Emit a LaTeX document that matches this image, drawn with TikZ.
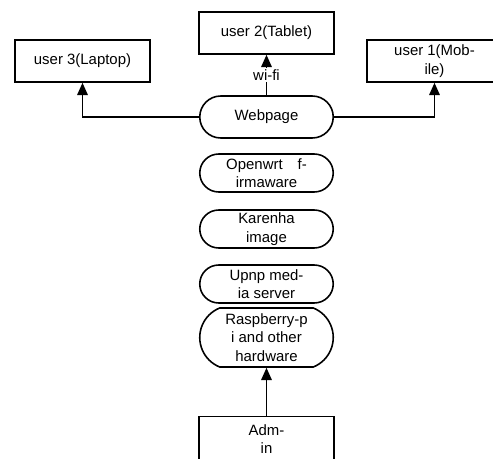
\documentclass[tikz,border=0pt]{standalone}
\usepackage{fontspec}
\setmainfont{Liberation Sans}
\usetikzlibrary{arrows.meta, shapes.misc}

\begin{document}
\begin{tikzpicture}[>={Triangle[length=7pt,width=6pt]},
        every node/.style={font=\fontsize{8.5}{10.4}\selectfont},
        userbox/.style={draw, line width=0.9pt, minimum width=2.7cm,
            minimum height=0.84cm, align=center, inner sep=1pt},
        stadium/.style={draw, line width=0.9pt, rounded rectangle,
            minimum width=2.74cm, minimum height=0.76cm, align=center,
            inner sep=1pt}]
      \useasboundingbox (0,0) rectangle (9.86,-9.18);
      \node[userbox] (U3) at (1.65,-1.22) {user 3(Laptop)};
      \node[userbox] (U2) at (5.33,-0.66) {user 2(Tablet)};
      \node[userbox] (U1) at (8.69,-1.22) {user 1(Mob-\\ile)};
      \node[stadium, minimum height=0.84cm] (WEB) at (5.33,-2.34) {Webpage};
      \node[stadium] (WRT) at (5.33,-3.46) {Openwrt\hspace{1em}f-\\irmaware};
      \node[stadium] (KAR) at (5.33,-4.58) {Karenha\\image};
      \node[stadium] (UPNP) at (5.33,-5.68) {Upnp med-\\ia server};
      \node[stadium, minimum height=1.18cm, rounded rectangle arc length=136]
            (RPI) at (5.33,-6.75) {Raspberry-p\\i and other\\hardware};
      \node[userbox, minimum height=0.9cm] (ADM) at (5.33,-8.78) {Adm-\\in};
      \draw[->, line width=0.9pt] (WEB.west) -| (U3.south);
      \draw[->, line width=0.9pt] (WEB.east) -| (U1.south);
      \draw[->, line width=0.9pt] (WEB.north) -- node[fill=white, inner sep=1pt] {wi-fi} (U2.south);
      \draw[->, line width=0.9pt] (ADM.north) -- (RPI.south);
    \end{tikzpicture}
\end{document}
